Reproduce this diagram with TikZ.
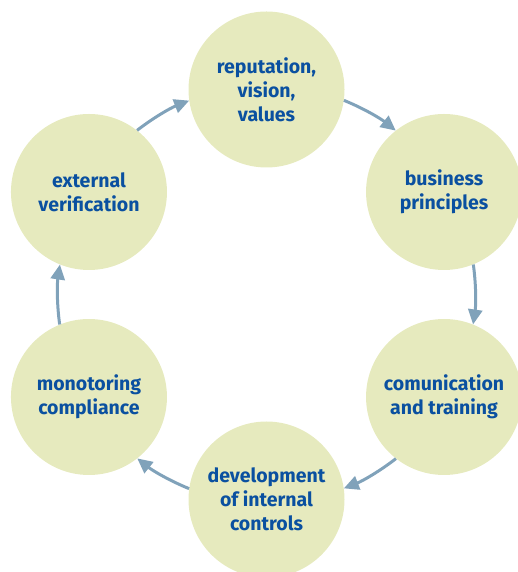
\documentclass[tikz,border=0pt]{standalone}
\usepackage{fontspec}
\setmainfont{Fira Sans}
\usetikzlibrary{arrows.meta,calc}
\definecolor{circfill}{RGB}{230,234,190}
\definecolor{txtblue}{RGB}{10,80,160}
\definecolor{arrblue}{RGB}{128,162,186}
\tikzset{
  stage/.style={circle, fill=circfill, minimum size=156pt, inner sep=0pt,
    text=txtblue, font=\bfseries\fontsize{19.5}{24}\selectfont, align=center},
  flow/.style={draw=arrblue, line width=3pt, -{Triangle[length=15pt,width=14pt]}}
}
\begin{document}
\begin{tikzpicture}[x=1pt,y=1pt]
\useasboundingbox (0,0) rectangle (518,572);
\coordinate (c) at (266.5,277.5);
\node[stage] (top) at ($(c)+(90:205)$) {reputation,\\vision,\\values};
\node[stage] (bp)  at ($(c)+(30:205)$) {business\\principles};
\node[stage] (ct)  at ($(c)+(-30:205)$) {comunication\\and training};
\node[stage] (dev) at ($(c)+(-90:205)$) {development\\of internal\\controls};
\node[stage] (mon) at ($(c)+(-150:205)$) {monotoring\\compliance};
\node[stage] (ext) at ($(c)+(150:205)$) {external\\verification};
\draw[flow] (top.-8)  arc[start angle=68,   end angle=51.5,   radius=209];
\draw[flow] (bp.-68)  arc[start angle=8,    end angle=-8.5,   radius=209];
\draw[flow] (ct.-128) arc[start angle=-52,  end angle=-68.5,  radius=209];
\draw[flow] (dev.172) arc[start angle=-112, end angle=-128.5, radius=209];
\draw[flow] (mon.112) arc[start angle=188,  end angle=171.5,  radius=209];
\draw[flow] (ext.52)  arc[start angle=128,  end angle=111.5,  radius=209];
\end{tikzpicture}
\end{document}
